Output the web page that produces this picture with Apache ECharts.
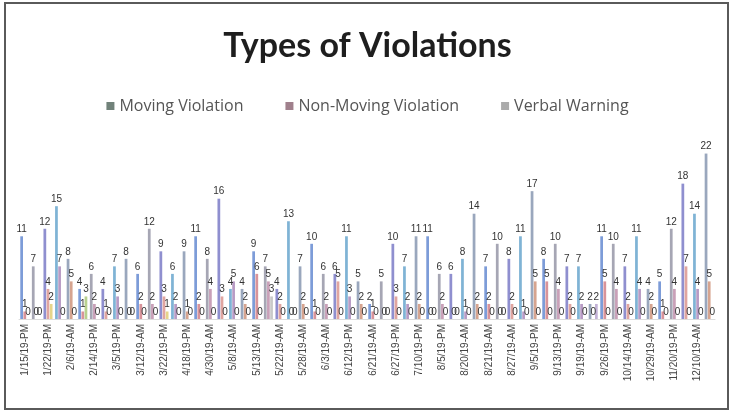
<!DOCTYPE html>
<html>
<head>
<meta charset="utf-8">
<script src="https://cdn.jsdelivr.net/npm/echarts@6/dist/echarts.min.js"></script>
<style>
html,body{margin:0;padding:0;background:#fff;}
#chart{width:735px;height:415px;}
</style>
</head>
<body>
<div id="chart"></div>
<script>
const categories = [
 '1/15/19-PM','1/17/19-AM','1/22/19-PM','1/29/19-AM','2/6/19-AM','2/11/19-PM','2/14/19-PM','2/26/19-AM','3/5/19-PM','3/8/19-AM',
 '3/12/19-AM','3/19/19-PM','3/22/19-PM','4/4/19-AM','4/18/19-PM','4/24/19-AM','4/30/19-AM','5/3/19-PM','5/8/19-AM','5/10/19-PM',
 '5/13/19-AM','5/17/19-PM','5/22/19-AM','5/24/19-PM','5/28/19-AM','5/30/19-PM','6/3/19-AM','6/7/19-PM','6/12/19-PM','6/17/19-AM',
 '6/21/19-AM','6/25/19-PM','6/27/19-PM','7/2/19-AM','7/10/19-PM','7/23/19-AM','8/5/19-PM','8/13/19-AM','8/20/19-AM','8/20/19-PM',
 '8/21/19-AM','8/23/19-PM','8/27/19-AM','8/30/19-PM','9/5/19-PM','9/10/19-AM','9/13/19-PM','9/17/19-AM','9/19/19-AM','9/23/19-PM',
 '9/26/19-PM','10/4/19-AM','10/14/19-AM','10/22/19-PM','10/29/19-AM','11/7/19-PM','11/20/19-PM','12/2/19-AM','12/10/19-AM','12/17/19-PM'
];
const seriesNames = ['Moving Violation','Non-Moving Violation','Verbal Warning'];
const movingViolation = [
 11,7,12,15,8,4,6,4,7,8,
 6,12,9,6,9,11,8,16,4,4,
 9,7,4,13,7,10,6,6,11,5,
 2,5,10,7,11,11,6,6,8,14,
 7,10,8,11,17,8,10,7,7,2,
 11,10,7,11,4,5,12,18,14,22
];
const nonMovingViolation = [
 1,0,4,7,5,1,2,1,3,0,
 2,2,3,2,1,2,4,3,5,2,
 6,5,2,0,2,1,2,5,3,2,
 1,0,3,2,2,0,2,0,1,2,
 2,0,2,1,5,5,4,2,2,0,
 5,4,2,4,2,1,4,7,4,5
];
const verbalWarning = [
 0,0,2,0,0,3,0,0,0,0,
 0,0,1,0,0,0,0,0,0,0,
 0,3,0,0,0,0,0,0,0,0,
 0,0,0,0,0,0,0,0,0,0,
 0,0,0,0,0,0,0,0,0,2,
 0,0,0,0,0,0,0,0,0,0
];

const palettes = [
  ['#7d9cd8','#a6a6b4','#8f8fcf','#7fb3d5','#9aa7bd'],
  ['#d8939a','#c9a0b8','#e0a5a0','#b89bc5','#d6a48f'],
  ['#b8d08e','#c9c9c9','#e6d58a','#9fcfd2','#c2b2d6']
];
const legendColors = ['#71827a','#a0808c','#ababab'];

const chart = echarts.init(document.getElementById('chart'), null, {renderer:'canvas'});
const dataSets = [movingViolation, nonMovingViolation, verbalWarning];

chart.setOption({
  animation:false,
  graphic:[{type:'rect',shape:{x:5,y:3,width:723,height:406},style:{fill:'none',stroke:'#5a5a5a',lineWidth:2},silent:true}],
  title:{text:'Types of Violations',left:'center',top:24,
    textStyle:{fontFamily:'Lato',fontWeight:'bold',fontSize:34,color:'#1e1e1e'}},
  legend:{top:93,left:'center',itemWidth:8,itemHeight:8,itemGap:42,icon:'rect',
    textStyle:{fontFamily:'Open Sans',fontSize:16,color:'#555'},
    data:seriesNames.map((n,i)=>({name:n,itemStyle:{color:legendColors[i]}}))},
  grid:{left:19,right:20,top:131,bottom:96,containLabel:false},
  xAxis:{type:'category',data:categories,
    axisLine:{show:true,lineStyle:{color:'#dcdcdc'}},axisTick:{show:false},
    axisLabel:{interval:1,rotate:90,fontSize:10,color:'#444',fontFamily:'Liberation Sans',margin:5}},
  yAxis:{type:'value',min:0,max:25,show:false,splitLine:{show:false}},
  series:dataSets.map((d,s)=>({
    name:seriesNames[s],type:'bar',data:d,barGap:'15%',barCategoryGap:'22%',
    itemStyle:{color:(p)=>palettes[s][p.dataIndex%palettes[s].length]},
    label:{show:true,position:'top',distance:2,fontSize:10,color:'#333',fontFamily:'Liberation Sans'}
  }))
});
</script>
</body>
</html>
